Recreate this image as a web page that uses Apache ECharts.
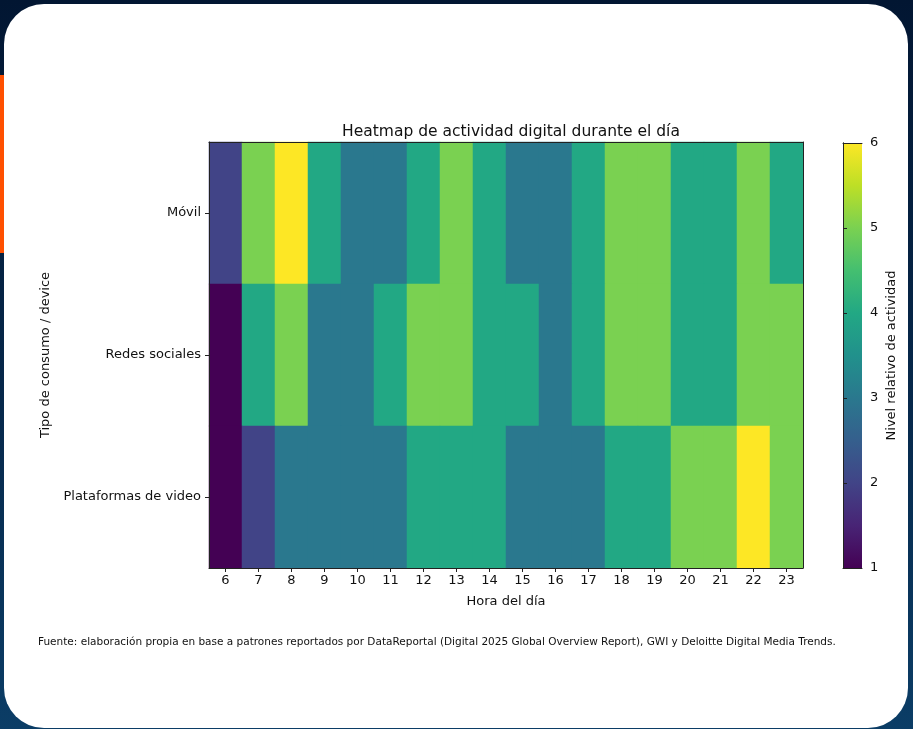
<!DOCTYPE html>
<html>
<head>
<meta charset="utf-8">
<script src="https://cdn.jsdelivr.net/npm/echarts@6/dist/echarts.min.js"></script>
<style>
  html, body { margin: 0; padding: 0; width: 913px; height: 729px; overflow: hidden; }
  body { background: linear-gradient(180deg, #021632 0%, #06284b 55%, #0b3d66 100%); position: relative; }
  #accent { position: absolute; left: 0; top: 75px; width: 5px; height: 178px; background: #ff5000; }
  #card { position: absolute; left: 4px; top: 4px; width: 904px; height: 724px; background: #ffffff; border-radius: 40px; }
  #chart { position: absolute; left: 0; top: 0; width: 913px; height: 729px; }
</style>
</head>
<body>
<div id="accent"></div>
<div id="card"></div>
<div id="chart"></div>
<script>
// Hours of the day (columns) and consumption types (rows, top to bottom)
const hours = ['6','7','8','9','10','11','12','13','14','15','16','17','18','19','20','21','22','23'];
const categories = ['Móvil', 'Redes sociales', 'Plataformas de video'];

// Relative activity level per hour, one array per row
const movil      = [2, 5, 6, 4, 3, 3, 4, 5, 4, 3, 3, 4, 5, 5, 4, 4, 5, 4];
const redes      = [1, 4, 5, 3, 3, 4, 5, 5, 4, 4, 3, 4, 5, 5, 4, 4, 5, 5];
const plataformas= [1, 2, 3, 3, 3, 3, 4, 4, 4, 3, 3, 3, 4, 4, 5, 5, 6, 5];

const colorbarTicks = ['1', '2', '3', '4', '5', '6'];

const rows = [movil, redes, plataformas];
const cells = [];
rows.forEach((vals, r) => vals.forEach((v, c) => cells.push([c, r, v])));

// Viridis palette
const viridis = ['#440154','#482475','#414487','#355f8d','#2a788e','#21918c',
                 '#22a884','#44bf70','#7ad151','#bddf26','#fde725'];
const gradientStops = viridis.map((c, i) => ({ offset: 1 - i / (viridis.length - 1), color: c }));

const font = 'DejaVu Sans';
const ink = '#111';

const chart = echarts.init(document.getElementById('chart'), null, { renderer: 'canvas' });
chart.setOption({
  backgroundColor: 'transparent',
  animation: false,
  textStyle: { fontFamily: font, color: ink },
  title: {
    text: 'Heatmap de actividad digital durante el día',
    left: 506, top: 119, textAlign: 'center',
    textStyle: { fontFamily: font, fontSize: 15.5, fontWeight: 'normal', color: ink }
  },
  grid: [
    // integer cell sizes (33 x 142) keep neighbouring cells seamless
    { left: 209, top: 142, width: 594, height: 426, containLabel: false },
    { left: 843, top: 143, width: 19, height: 425, show: true, borderWidth: 0,
      backgroundColor: { type: 'linear', x: 0, y: 0, x2: 0, y2: 1, colorStops: gradientStops } }
  ],
  xAxis: [
    {
      type: 'category', data: hours, gridIndex: 0, z: 5,
      name: 'Hora del día', nameLocation: 'middle', nameGap: 27,
      nameTextStyle: { fontFamily: font, fontSize: 13, color: ink },
      axisLine: { show: true, lineStyle: { color: '#222', width: 1 } },
      axisTick: { show: true, alignWithLabel: true, length: 4, lineStyle: { color: '#222' } },
      axisLabel: { fontFamily: font, fontSize: 13, color: ink, margin: 6 },
      splitLine: { show: false }
    },
    {
      type: 'category', data: hours, gridIndex: 0, position: 'top', z: 5,
      axisLine: { show: true, lineStyle: { color: '#222', width: 1 } },
      axisTick: { show: false }, axisLabel: { show: false }
    },
    {
      type: 'value', gridIndex: 1, min: 0, max: 1, z: 5,
      axisLine: { show: true, lineStyle: { color: '#222', width: 1 } },
      axisTick: { show: false }, axisLabel: { show: false }, splitLine: { show: false }
    },
    {
      type: 'value', gridIndex: 1, min: 0, max: 1, position: 'top', z: 5,
      axisLine: { show: true, lineStyle: { color: '#222', width: 1 } },
      axisTick: { show: false }, axisLabel: { show: false }, splitLine: { show: false }
    }
  ],
  yAxis: [
    {
      type: 'category', data: categories, gridIndex: 0, inverse: true, z: 5,
      name: 'Tipo de consumo / device', nameLocation: 'middle', nameGap: 151,
      nameTextStyle: { fontFamily: font, fontSize: 13, color: ink },
      axisLine: { show: true, lineStyle: { color: '#222', width: 1 } },
      axisTick: { show: true, alignWithLabel: true, length: 4, lineStyle: { color: '#222' } },
      axisLabel: { fontFamily: font, fontSize: 13, color: ink, margin: 8 },
      splitLine: { show: false }
    },
    {
      type: 'category', data: categories, gridIndex: 0, inverse: true, position: 'right', z: 5,
      axisLine: { show: true, lineStyle: { color: '#222', width: 1 } },
      axisTick: { show: false }, axisLabel: { show: false }
    },
    {
      type: 'value', gridIndex: 1, min: 1, max: 6, interval: 1, position: 'right', z: 5,
      name: 'Nivel relativo de actividad', nameLocation: 'middle', nameGap: 23, nameRotate: 90,
      nameTextStyle: { fontFamily: font, fontSize: 13, color: ink },
      axisLine: { show: true, lineStyle: { color: '#222', width: 1 } },
      axisTick: { show: true, length: 4, lineStyle: { color: '#222' } },
      axisLabel: { fontFamily: font, fontSize: 13, color: ink, margin: 8,
                   formatter: (v) => colorbarTicks[v - 1] },
      splitLine: { show: false }
    },
    {
      type: 'value', gridIndex: 1, min: 1, max: 6, position: 'left', z: 5,
      axisLine: { show: true, lineStyle: { color: '#222', width: 1 } },
      axisTick: { show: false }, axisLabel: { show: false }, splitLine: { show: false }
    }
  ],
  visualMap: {
    show: false, type: 'continuous', min: 1, max: 6, seriesIndex: 0,
    inRange: { color: viridis }
  },
  series: [{
    type: 'heatmap', xAxisIndex: 0, yAxisIndex: 0, data: cells,
    itemStyle: { borderWidth: 0 },
    emphasis: { disabled: true }
  }],
  graphic: [{
    type: 'text', left: 38, top: 637,
    style: {
      text: 'Fuente: elaboración propia en base a patrones reportados por DataReportal (Digital 2025 Global Overview Report), GWI y Deloitte Digital Media Trends.',
      font: '10.5px "DejaVu Sans"', fill: ink
    }
  }]
});
</script>
</body>
</html>
